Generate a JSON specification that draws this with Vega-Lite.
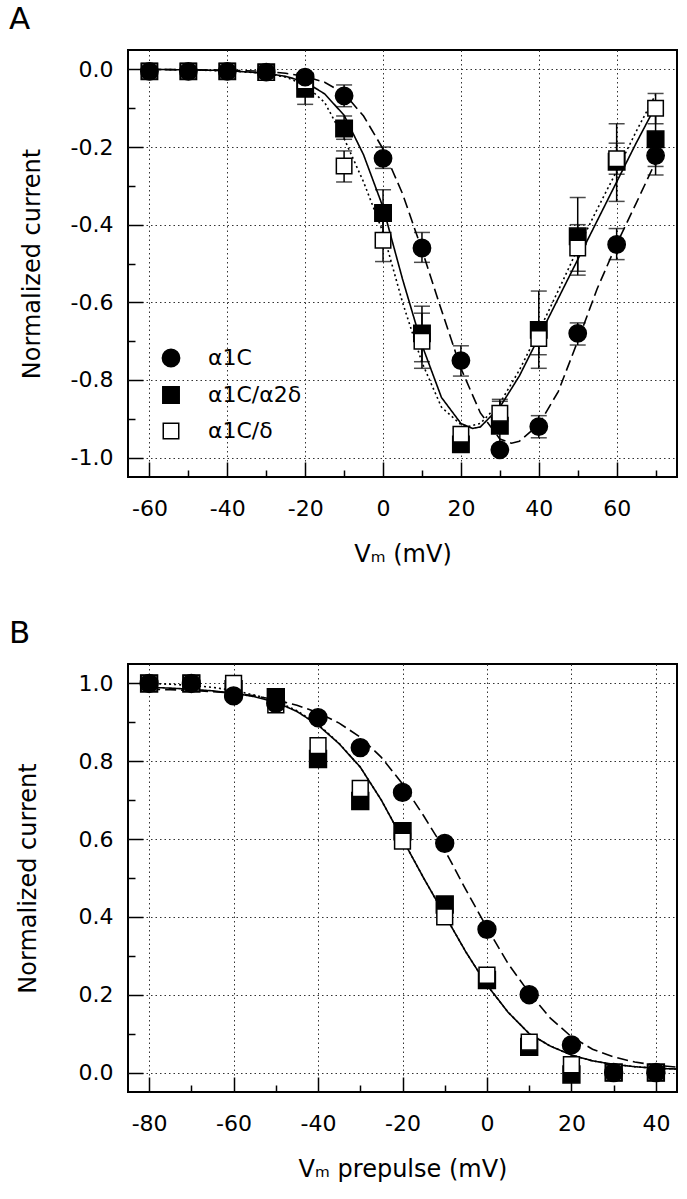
{
  "$schema": "https://vega.github.io/schema/vega-lite/v6.json",
  "background": "white",
  "padding": {"left": 8, "top": 3, "right": 5, "bottom": 5},
  "bounds": "flush",
  "spacing": 187,
  "resolve": {"scale": {"shape": "independent", "fill": "independent", "size": "independent", "stroke": "independent", "strokeDash": "independent"}, "legend": {"shape": "independent", "fill": "independent", "size": "independent", "stroke": "independent", "strokeDash": "independent"}},
  "config": {
    "font": "DejaVu Sans",
    "view": {"stroke": "black", "strokeWidth": 2},
    "axis": {
      "domain": false,
      "tickColor": "black",
      "tickWidth": 1.5,
      "gridColor": "#333333",
      "gridDash": [1.5, 3],
      "gridWidth": 1,
      "labelFont": "DejaVu Sans",
      "labelFontSize": 22,
      "labelColor": "black",
      "titleFont": "DejaVu Sans",
      "titleFontSize": 24,
      "titleFontWeight": "normal",
      "titleColor": "black",
      "labelOverlap": false,
      "labelFlush": false
    },
    "legend": {
      "labelFont": "DejaVu Sans",
      "labelFontSize": 22,
      "labelColor": "black",
      "rowPadding": 13,
      "labelOffset": 26,
      "padding": 0
    },
    "title": {"font": "DejaVu Sans", "fontSize": 31, "fontWeight": "normal", "color": "black", "anchor": "start", "frame": "group"}
  },
  "datasets": {
    "ivPoints": [
      {"s": "α1C/α2δ", "v": -60, "y": -0.005, "lo": -0.005, "hi": -0.005},
      {"s": "α1C/α2δ", "v": -50, "y": -0.005, "lo": -0.005, "hi": -0.005},
      {"s": "α1C/α2δ", "v": -40, "y": -0.005, "lo": -0.005, "hi": -0.005},
      {"s": "α1C/α2δ", "v": -30, "y": -0.007, "lo": -0.007, "hi": -0.007},
      {"s": "α1C/α2δ", "v": -20, "y": -0.05, "lo": -0.09, "hi": -0.02},
      {"s": "α1C/α2δ", "v": -10, "y": -0.152, "lo": -0.18, "hi": -0.12},
      {"s": "α1C/α2δ", "v": 0, "y": -0.37, "lo": -0.43, "hi": -0.31},
      {"s": "α1C/α2δ", "v": 10, "y": -0.68, "lo": -0.753, "hi": -0.61},
      {"s": "α1C/α2δ", "v": 20, "y": -0.966, "lo": -0.98, "hi": -0.95},
      {"s": "α1C/α2δ", "v": 30, "y": -0.918, "lo": -0.99, "hi": -0.85},
      {"s": "α1C/α2δ", "v": 40, "y": -0.671, "lo": -0.77, "hi": -0.571},
      {"s": "α1C/α2δ", "v": 50, "y": -0.43, "lo": -0.53, "hi": -0.33},
      {"s": "α1C/α2δ", "v": 60, "y": -0.238, "lo": -0.34, "hi": -0.14},
      {"s": "α1C/α2δ", "v": 70, "y": -0.18, "lo": -0.25, "hi": -0.11},
      {"s": "α1C/δ", "v": -60, "y": -0.005, "lo": -0.005, "hi": -0.005},
      {"s": "α1C/δ", "v": -50, "y": -0.005, "lo": -0.005, "hi": -0.005},
      {"s": "α1C/δ", "v": -40, "y": -0.005, "lo": -0.005, "hi": -0.005},
      {"s": "α1C/δ", "v": -30, "y": -0.008, "lo": -0.008, "hi": -0.008},
      {"s": "α1C/δ", "v": -20, "y": -0.03, "lo": -0.05, "hi": -0.01},
      {"s": "α1C/δ", "v": -10, "y": -0.249, "lo": -0.29, "hi": -0.21},
      {"s": "α1C/δ", "v": 0, "y": -0.44, "lo": -0.495, "hi": -0.385},
      {"s": "α1C/δ", "v": 10, "y": -0.7, "lo": -0.77, "hi": -0.628},
      {"s": "α1C/δ", "v": 20, "y": -0.94, "lo": -0.955, "hi": -0.925},
      {"s": "α1C/δ", "v": 30, "y": -0.886, "lo": -0.92, "hi": -0.855},
      {"s": "α1C/δ", "v": 40, "y": -0.693, "lo": -0.735, "hi": -0.65},
      {"s": "α1C/δ", "v": 50, "y": -0.46, "lo": -0.52, "hi": -0.4},
      {"s": "α1C/δ", "v": 60, "y": -0.23, "lo": -0.27, "hi": -0.19},
      {"s": "α1C/δ", "v": 70, "y": -0.1, "lo": -0.14, "hi": -0.062},
      {"s": "α1C", "v": -60, "y": -0.005, "lo": -0.005, "hi": -0.005},
      {"s": "α1C", "v": -50, "y": -0.005, "lo": -0.005, "hi": -0.005},
      {"s": "α1C", "v": -40, "y": -0.005, "lo": -0.005, "hi": -0.005},
      {"s": "α1C", "v": -30, "y": -0.007, "lo": -0.007, "hi": -0.007},
      {"s": "α1C", "v": -20, "y": -0.02, "lo": -0.03, "hi": -0.01},
      {"s": "α1C", "v": -10, "y": -0.068, "lo": -0.096, "hi": -0.04},
      {"s": "α1C", "v": 0, "y": -0.229, "lo": -0.255, "hi": -0.2},
      {"s": "α1C", "v": 10, "y": -0.46, "lo": -0.497, "hi": -0.42},
      {"s": "α1C", "v": 20, "y": -0.75, "lo": -0.79, "hi": -0.712},
      {"s": "α1C", "v": 30, "y": -0.98, "lo": -0.99, "hi": -0.97},
      {"s": "α1C", "v": 40, "y": -0.92, "lo": -0.949, "hi": -0.892},
      {"s": "α1C", "v": 50, "y": -0.68, "lo": -0.71, "hi": -0.653},
      {"s": "α1C", "v": 60, "y": -0.451, "lo": -0.49, "hi": -0.41},
      {"s": "α1C", "v": 70, "y": -0.222, "lo": -0.272, "hi": -0.176}
    ],
    "ivCurves": [
      {"s": "α1C/δ", "v": -60, "y": 0}, {"s": "α1C/δ", "v": -50, "y": -0.001}, {"s": "α1C/δ", "v": -40, "y": -0.004},
      {"s": "α1C/δ", "v": -30, "y": -0.01}, {"s": "α1C/δ", "v": -25, "y": -0.02}, {"s": "α1C/δ", "v": -20, "y": -0.04},
      {"s": "α1C/δ", "v": -15, "y": -0.085}, {"s": "α1C/δ", "v": -10, "y": -0.178}, {"s": "α1C/δ", "v": -5, "y": -0.29},
      {"s": "α1C/δ", "v": 0, "y": -0.42}, {"s": "α1C/δ", "v": 5, "y": -0.6}, {"s": "α1C/δ", "v": 10, "y": -0.755},
      {"s": "α1C/δ", "v": 15, "y": -0.87}, {"s": "α1C/δ", "v": 20, "y": -0.915}, {"s": "α1C/δ", "v": 22, "y": -0.92},
      {"s": "α1C/δ", "v": 25, "y": -0.912}, {"s": "α1C/δ", "v": 30, "y": -0.86}, {"s": "α1C/δ", "v": 35, "y": -0.775},
      {"s": "α1C/δ", "v": 40, "y": -0.675}, {"s": "α1C/δ", "v": 45, "y": -0.57}, {"s": "α1C/δ", "v": 50, "y": -0.462},
      {"s": "α1C/δ", "v": 55, "y": -0.36}, {"s": "α1C/δ", "v": 60, "y": -0.262}, {"s": "α1C/δ", "v": 65, "y": -0.16},
      {"s": "α1C/δ", "v": 70, "y": -0.065},
      {"s": "α1C/α2δ", "v": -60, "y": 0}, {"s": "α1C/α2δ", "v": -50, "y": -0.001}, {"s": "α1C/α2δ", "v": -40, "y": -0.003},
      {"s": "α1C/α2δ", "v": -30, "y": -0.01}, {"s": "α1C/α2δ", "v": -25, "y": -0.018}, {"s": "α1C/α2δ", "v": -20, "y": -0.032},
      {"s": "α1C/α2δ", "v": -15, "y": -0.063}, {"s": "α1C/α2δ", "v": -10, "y": -0.118}, {"s": "α1C/α2δ", "v": -5, "y": -0.22},
      {"s": "α1C/α2δ", "v": 0, "y": -0.355}, {"s": "α1C/α2δ", "v": 5, "y": -0.54}, {"s": "α1C/α2δ", "v": 10, "y": -0.71},
      {"s": "α1C/α2δ", "v": 15, "y": -0.845}, {"s": "α1C/α2δ", "v": 20, "y": -0.912}, {"s": "α1C/α2δ", "v": 23, "y": -0.925},
      {"s": "α1C/α2δ", "v": 25, "y": -0.921}, {"s": "α1C/α2δ", "v": 30, "y": -0.87}, {"s": "α1C/α2δ", "v": 35, "y": -0.79},
      {"s": "α1C/α2δ", "v": 40, "y": -0.69}, {"s": "α1C/α2δ", "v": 45, "y": -0.59}, {"s": "α1C/α2δ", "v": 50, "y": -0.49},
      {"s": "α1C/α2δ", "v": 55, "y": -0.39}, {"s": "α1C/α2δ", "v": 60, "y": -0.29}, {"s": "α1C/α2δ", "v": 65, "y": -0.19},
      {"s": "α1C/α2δ", "v": 70, "y": -0.095},
      {"s": "α1C", "v": -60, "y": 0}, {"s": "α1C", "v": -50, "y": -0.001}, {"s": "α1C", "v": -40, "y": -0.002},
      {"s": "α1C", "v": -30, "y": -0.005}, {"s": "α1C", "v": -25, "y": -0.01}, {"s": "α1C", "v": -20, "y": -0.018},
      {"s": "α1C", "v": -15, "y": -0.033}, {"s": "α1C", "v": -10, "y": -0.062}, {"s": "α1C", "v": -5, "y": -0.12},
      {"s": "α1C", "v": 0, "y": -0.205}, {"s": "α1C", "v": 5, "y": -0.32}, {"s": "α1C", "v": 10, "y": -0.465},
      {"s": "α1C", "v": 15, "y": -0.62}, {"s": "α1C", "v": 20, "y": -0.77}, {"s": "α1C", "v": 25, "y": -0.885},
      {"s": "α1C", "v": 30, "y": -0.952}, {"s": "α1C", "v": 33, "y": -0.963}, {"s": "α1C", "v": 35, "y": -0.958},
      {"s": "α1C", "v": 40, "y": -0.915}, {"s": "α1C", "v": 45, "y": -0.83}, {"s": "α1C", "v": 50, "y": -0.7},
      {"s": "α1C", "v": 55, "y": -0.565}, {"s": "α1C", "v": 60, "y": -0.45}, {"s": "α1C", "v": 65, "y": -0.345},
      {"s": "α1C", "v": 70, "y": -0.238}
    ],
    "inPoints": [
      {"s": "α1C/α2δ", "v": -80, "y": 1.0}, {"s": "α1C/α2δ", "v": -70, "y": 1.0}, {"s": "α1C/α2δ", "v": -60, "y": 0.985},
      {"s": "α1C/α2δ", "v": -50, "y": 0.965}, {"s": "α1C/α2δ", "v": -40, "y": 0.806}, {"s": "α1C/α2δ", "v": -30, "y": 0.698},
      {"s": "α1C/α2δ", "v": -20, "y": 0.62}, {"s": "α1C/α2δ", "v": -10, "y": 0.432}, {"s": "α1C/α2δ", "v": 0, "y": 0.238},
      {"s": "α1C/α2δ", "v": 10, "y": 0.066}, {"s": "α1C/α2δ", "v": 20, "y": -0.005}, {"s": "α1C/α2δ", "v": 30, "y": 0.0},
      {"s": "α1C/α2δ", "v": 40, "y": 0.0},
      {"s": "α1C/δ", "v": -80, "y": 1.0}, {"s": "α1C/δ", "v": -70, "y": 1.0}, {"s": "α1C/δ", "v": -60, "y": 1.0},
      {"s": "α1C/δ", "v": -50, "y": 0.945}, {"s": "α1C/δ", "v": -40, "y": 0.84}, {"s": "α1C/δ", "v": -30, "y": 0.73},
      {"s": "α1C/δ", "v": -20, "y": 0.595}, {"s": "α1C/δ", "v": -10, "y": 0.4}, {"s": "α1C/δ", "v": 0, "y": 0.25},
      {"s": "α1C/δ", "v": 10, "y": 0.078}, {"s": "α1C/δ", "v": 20, "y": 0.02}, {"s": "α1C/δ", "v": 30, "y": 0.0},
      {"s": "α1C/δ", "v": 40, "y": 0.0},
      {"s": "α1C", "v": -80, "y": 1.0}, {"s": "α1C", "v": -70, "y": 1.0}, {"s": "α1C", "v": -60, "y": 0.968},
      {"s": "α1C", "v": -50, "y": 0.949}, {"s": "α1C", "v": -40, "y": 0.912}, {"s": "α1C", "v": -30, "y": 0.835},
      {"s": "α1C", "v": -20, "y": 0.72}, {"s": "α1C", "v": -10, "y": 0.589}, {"s": "α1C", "v": 0, "y": 0.368},
      {"s": "α1C", "v": 10, "y": 0.2}, {"s": "α1C", "v": 20, "y": 0.071}, {"s": "α1C", "v": 30, "y": 0.0},
      {"s": "α1C", "v": 40, "y": 0.0}
    ],
    "inCurves": [
      {"s": "α1C/δ", "v": -80, "y": 1.0}, {"s": "α1C/δ", "v": -75, "y": 0.998}, {"s": "α1C/δ", "v": -70, "y": 0.995},
      {"s": "α1C/δ", "v": -65, "y": 0.99}, {"s": "α1C/δ", "v": -60, "y": 0.982}, {"s": "α1C/δ", "v": -55, "y": 0.97},
      {"s": "α1C/δ", "v": -50, "y": 0.955}, {"s": "α1C/δ", "v": -45, "y": 0.93}, {"s": "α1C/δ", "v": -40, "y": 0.895},
      {"s": "α1C/δ", "v": -35, "y": 0.846}, {"s": "α1C/δ", "v": -30, "y": 0.785}, {"s": "α1C/δ", "v": -25, "y": 0.7},
      {"s": "α1C/δ", "v": -20, "y": 0.6}, {"s": "α1C/δ", "v": -15, "y": 0.5}, {"s": "α1C/δ", "v": -10, "y": 0.405},
      {"s": "α1C/δ", "v": -5, "y": 0.31}, {"s": "α1C/δ", "v": 0, "y": 0.225}, {"s": "α1C/δ", "v": 5, "y": 0.155},
      {"s": "α1C/δ", "v": 10, "y": 0.1}, {"s": "α1C/δ", "v": 15, "y": 0.068}, {"s": "α1C/δ", "v": 20, "y": 0.045},
      {"s": "α1C/δ", "v": 25, "y": 0.03}, {"s": "α1C/δ", "v": 30, "y": 0.021}, {"s": "α1C/δ", "v": 35, "y": 0.015},
      {"s": "α1C/δ", "v": 40, "y": 0.011}, {"s": "α1C/δ", "v": 45, "y": 0.009},
      {"s": "α1C/α2δ", "v": -80, "y": 0.99}, {"s": "α1C/α2δ", "v": -75, "y": 0.988}, {"s": "α1C/α2δ", "v": -70, "y": 0.985},
      {"s": "α1C/α2δ", "v": -65, "y": 0.981}, {"s": "α1C/α2δ", "v": -60, "y": 0.975}, {"s": "α1C/α2δ", "v": -55, "y": 0.966},
      {"s": "α1C/α2δ", "v": -50, "y": 0.952}, {"s": "α1C/α2δ", "v": -45, "y": 0.928}, {"s": "α1C/α2δ", "v": -40, "y": 0.893},
      {"s": "α1C/α2δ", "v": -35, "y": 0.845}, {"s": "α1C/α2δ", "v": -30, "y": 0.785}, {"s": "α1C/α2δ", "v": -25, "y": 0.7},
      {"s": "α1C/α2δ", "v": -20, "y": 0.6}, {"s": "α1C/α2δ", "v": -15, "y": 0.5}, {"s": "α1C/α2δ", "v": -10, "y": 0.405},
      {"s": "α1C/α2δ", "v": -5, "y": 0.31}, {"s": "α1C/α2δ", "v": 0, "y": 0.225}, {"s": "α1C/α2δ", "v": 5, "y": 0.155},
      {"s": "α1C/α2δ", "v": 10, "y": 0.1}, {"s": "α1C/α2δ", "v": 15, "y": 0.068}, {"s": "α1C/α2δ", "v": 20, "y": 0.045},
      {"s": "α1C/α2δ", "v": 25, "y": 0.03}, {"s": "α1C/α2δ", "v": 30, "y": 0.021}, {"s": "α1C/α2δ", "v": 35, "y": 0.015},
      {"s": "α1C/α2δ", "v": 40, "y": 0.011}, {"s": "α1C/α2δ", "v": 45, "y": 0.009},
      {"s": "α1C", "v": -80, "y": 0.985}, {"s": "α1C", "v": -75, "y": 0.984}, {"s": "α1C", "v": -70, "y": 0.982},
      {"s": "α1C", "v": -65, "y": 0.979}, {"s": "α1C", "v": -60, "y": 0.975}, {"s": "α1C", "v": -55, "y": 0.968},
      {"s": "α1C", "v": -50, "y": 0.958}, {"s": "α1C", "v": -45, "y": 0.944}, {"s": "α1C", "v": -40, "y": 0.925},
      {"s": "α1C", "v": -35, "y": 0.898}, {"s": "α1C", "v": -30, "y": 0.862}, {"s": "α1C", "v": -25, "y": 0.81},
      {"s": "α1C", "v": -20, "y": 0.742}, {"s": "α1C", "v": -15, "y": 0.66}, {"s": "α1C", "v": -10, "y": 0.572},
      {"s": "α1C", "v": -5, "y": 0.47}, {"s": "α1C", "v": 0, "y": 0.372}, {"s": "α1C", "v": 5, "y": 0.28},
      {"s": "α1C", "v": 10, "y": 0.205}, {"s": "α1C", "v": 15, "y": 0.14}, {"s": "α1C", "v": 20, "y": 0.092},
      {"s": "α1C", "v": 25, "y": 0.06}, {"s": "α1C", "v": 30, "y": 0.04}, {"s": "α1C", "v": 35, "y": 0.027},
      {"s": "α1C", "v": 40, "y": 0.019}, {"s": "α1C", "v": 45, "y": 0.014}
    ]
  },
  "vconcat": [
    {
      "width": 549,
      "height": 427,
      "title": {"text": "A", "dx": -119, "offset": 14},
      "layer": [
        {
          "data": {"name": "ivCurves"},
          "mark": {"type": "line", "color": "black", "strokeWidth": 1.6},
          "encoding": {
            "x": {
              "field": "v", "type": "quantitative",
              "scale": {"domain": [-65.5, 75.5], "nice": false, "zero": false},
              "axis": {
                "values": [-60, -50, -40, -30, -20, -10, 0, 10, 20, 30, 40, 50, 60, 70],
                "title": "Vₘ (mV)",
                "labelExpr": "round(datum.value) % 20 == 0 ? ((datum.value < 0 ? '-' : '') + format(abs(datum.value), 'd')) : ''",
                "tickSize": {"condition": {"test": "round(datum.value) % 20 == 0", "value": -15}, "value": -7},
                "gridOpacity": {"condition": {"test": "round(datum.value) % 20 == 0", "value": 1}, "value": 0},
                "labelPadding": 36,
                "titlePadding": 15
              }
            },
            "y": {
              "field": "y", "type": "quantitative",
              "scale": {"domain": [-1.05, 0.05], "nice": false, "zero": false},
              "axis": {
                "values": [-1, -0.9, -0.8, -0.7, -0.6, -0.5, -0.4, -0.3, -0.2, -0.1, 0],
                "title": "Normalized current",
                "labelExpr": "abs(round(datum.value*10)) % 2 == 0 ? ((datum.value < -0.001 ? '-' : '') + format(abs(datum.value), '.1f')) : ''",
                "tickSize": {"condition": {"test": "abs(round(datum.value*10)) % 2 == 0", "value": -15}, "value": -7},
                "gridOpacity": {"condition": {"test": "abs(round(datum.value*10)) % 2 == 0", "value": 1}, "value": 0},
                "labelPadding": 30,
                "titlePadding": 26
              }
            },
            "strokeDash": {"field": "s", "type": "nominal", "scale": {"domain": ["α1C/α2δ", "α1C/δ", "α1C"], "range": [[1, 0], [2, 3], [11, 5]]}, "legend": null}
          }
        },
        {
          "data": {"name": "ivPoints"},
          "mark": {"type": "rule", "color": "black", "strokeWidth": 1.5},
          "encoding": {"x": {"field": "v", "type": "quantitative"}, "y": {"field": "lo", "type": "quantitative"}, "y2": {"field": "hi"}}
        },
        {
          "data": {"name": "ivPoints"},
          "mark": {"type": "tick", "orient": "horizontal", "color": "black", "size": 16, "thickness": 1.5},
          "encoding": {"x": {"field": "v", "type": "quantitative"}, "y": {"field": "lo", "type": "quantitative"}}
        },
        {
          "data": {"name": "ivPoints"},
          "mark": {"type": "tick", "orient": "horizontal", "color": "black", "size": 16, "thickness": 1.5},
          "encoding": {"x": {"field": "v", "type": "quantitative"}, "y": {"field": "hi", "type": "quantitative"}}
        },
        {
          "data": {"name": "ivPoints"},
          "mark": {"type": "point", "filled": true, "strokeWidth": 1.5, "opacity": 1},
          "encoding": {
            "x": {"field": "v", "type": "quantitative"},
            "y": {"field": "y", "type": "quantitative"},
            "shape": {"field": "s", "type": "nominal", "scale": {"domain": ["α1C", "α1C/α2δ", "α1C/δ"], "range": ["circle", "square", "square"]},
              "legend": {"title": null, "orient": "none", "legendX": 32, "legendY": 297, "symbolStrokeWidth": 1.5, "symbolOpacity": 1}},
            "fill": {"field": "s", "type": "nominal", "scale": {"domain": ["α1C", "α1C/α2δ", "α1C/δ"], "range": ["black", "black", "white"]},
              "legend": {"title": null, "orient": "none", "legendX": 32, "legendY": 297, "symbolStrokeWidth": 1.5, "symbolOpacity": 1}},
            "stroke": {"field": "s", "type": "nominal", "scale": {"domain": ["α1C", "α1C/α2δ", "α1C/δ"], "range": ["black", "black", "black"]},
              "legend": {"title": null, "orient": "none", "legendX": 32, "legendY": 297, "symbolStrokeWidth": 1.5, "symbolOpacity": 1}},
            "size": {"field": "s", "type": "nominal", "scale": {"domain": ["α1C", "α1C/α2δ", "α1C/δ"], "range": [300, 240, 240]},
              "legend": {"title": null, "orient": "none", "legendX": 32, "legendY": 297, "symbolStrokeWidth": 1.5, "symbolOpacity": 1}}
          }
        }
      ]
    },
    {
      "width": 549,
      "height": 428,
      "title": {"text": "B", "dx": -119, "offset": 14},
      "layer": [
        {
          "data": {"name": "inCurves"},
          "mark": {"type": "line", "color": "black", "strokeWidth": 1.6},
          "encoding": {
            "x": {
              "field": "v", "type": "quantitative",
              "scale": {"domain": [-85, 45], "nice": false, "zero": false},
              "axis": {
                "values": [-80, -70, -60, -50, -40, -30, -20, -10, 0, 10, 20, 30, 40],
                "title": "Vₘ prepulse (mV)",
                "labelExpr": "round(datum.value) % 20 == 0 ? ((datum.value < 0 ? '-' : '') + format(abs(datum.value), 'd')) : ''",
                "tickSize": {"condition": {"test": "round(datum.value) % 20 == 0", "value": -15}, "value": -7},
                "gridOpacity": {"condition": {"test": "round(datum.value) % 20 == 0", "value": 1}, "value": 0},
                "labelPadding": 36,
                "titlePadding": 15
              }
            },
            "y": {
              "field": "y", "type": "quantitative",
              "scale": {"domain": [-0.05, 1.05], "nice": false, "zero": false},
              "axis": {
                "values": [0, 0.1, 0.2, 0.3, 0.4, 0.5, 0.6, 0.7, 0.8, 0.9, 1],
                "title": "Normalized current",
                "labelExpr": "abs(round(datum.value*10)) % 2 == 0 ? format(datum.value, '.1f') : ''",
                "tickSize": {"condition": {"test": "abs(round(datum.value*10)) % 2 == 0", "value": -15}, "value": -7},
                "gridOpacity": {"condition": {"test": "abs(round(datum.value*10)) % 2 == 0", "value": 1}, "value": 0},
                "labelPadding": 30,
                "titlePadding": 38
              }
            },
            "strokeDash": {"field": "s", "type": "nominal", "scale": {"domain": ["α1C/α2δ", "α1C/δ", "α1C"], "range": [[1, 0], [2, 3], [11, 5]]}, "legend": null}
          }
        },
        {
          "data": {"name": "inPoints"},
          "mark": {"type": "point", "filled": true, "stroke": "black", "strokeWidth": 1.5, "opacity": 1},
          "encoding": {
            "x": {"field": "v", "type": "quantitative"},
            "y": {"field": "y", "type": "quantitative"},
            "shape": {"field": "s", "type": "nominal", "scale": {"domain": ["α1C", "α1C/α2δ", "α1C/δ"], "range": ["circle", "square", "square"]}, "legend": null},
            "fill": {"field": "s", "type": "nominal", "scale": {"domain": ["α1C", "α1C/α2δ", "α1C/δ"], "range": ["black", "black", "white"]}, "legend": null},
            "size": {"field": "s", "type": "nominal", "scale": {"domain": ["α1C", "α1C/α2δ", "α1C/δ"], "range": [320, 250, 250]}, "legend": null}
          }
        }
      ]
    }
  ]
}
